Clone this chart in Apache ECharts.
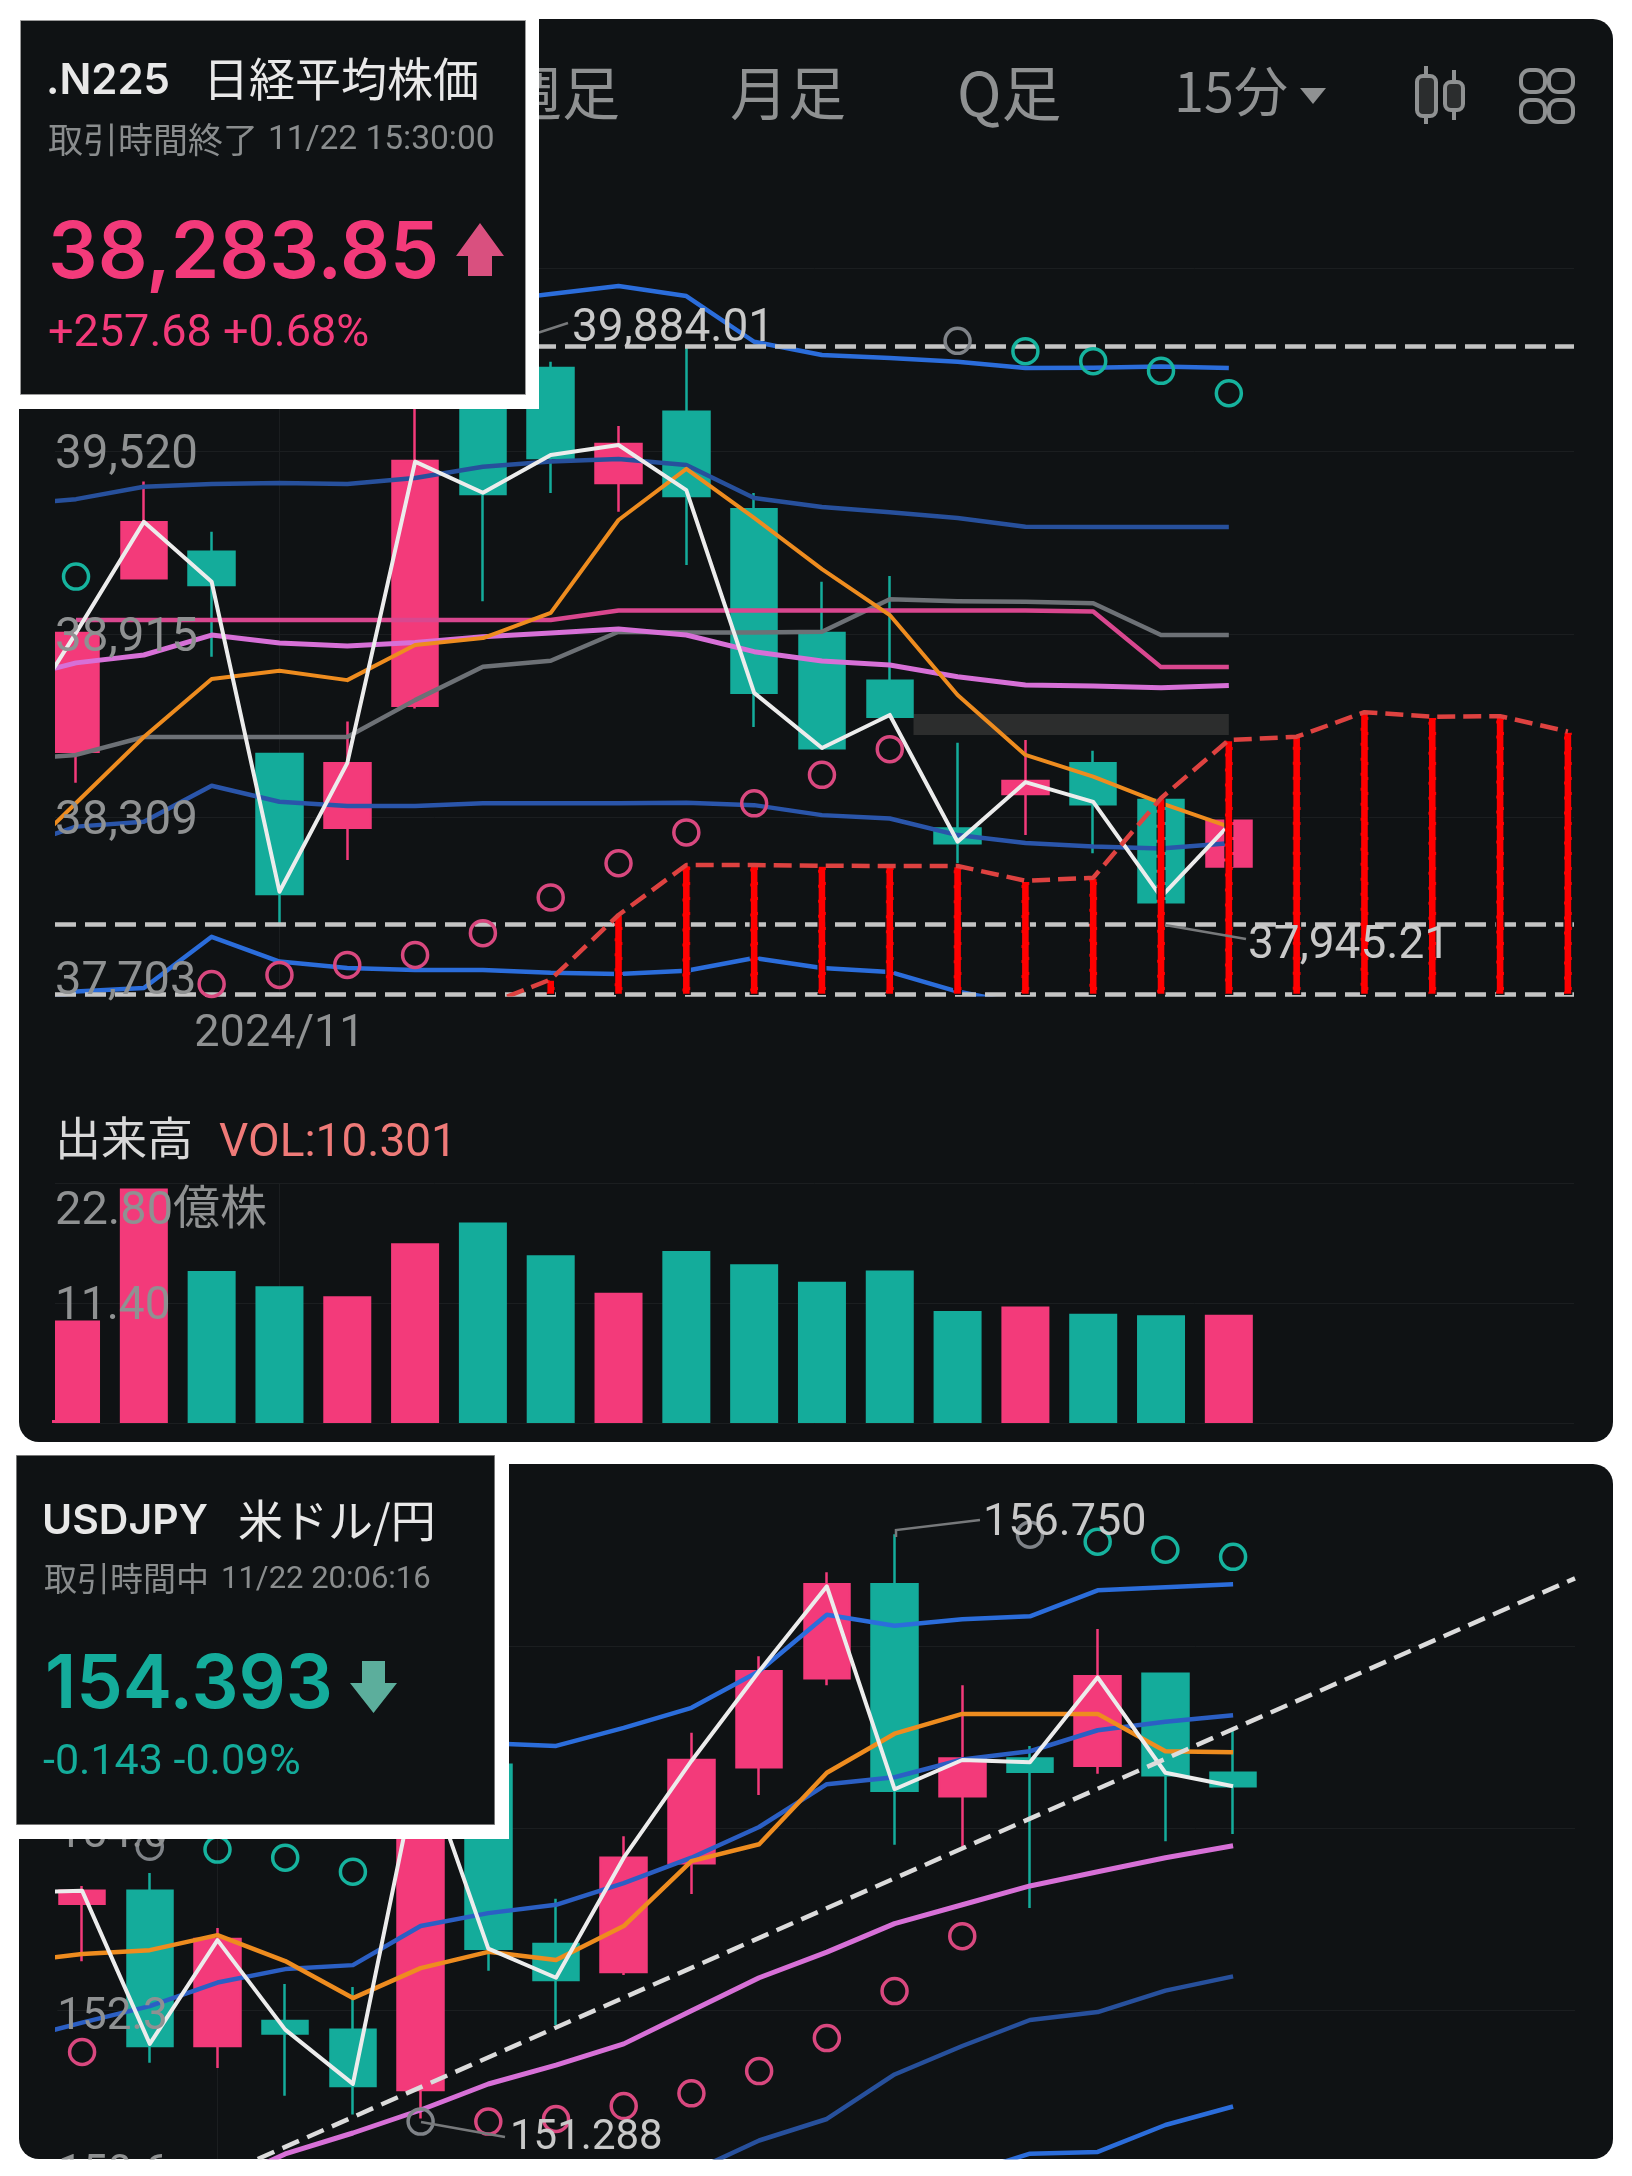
<!DOCTYPE html>
<html lang="ja">
<head>
<meta charset="utf-8">
<title>.N225 / USDJPY</title>
<script src="https://cdn.jsdelivr.net/npm/echarts@6/dist/echarts.min.js"></script>
<style>
    html, body { margin: 0; padding: 0; background: #fff; }
    #chart { width: 1632px; height: 2176px; }
</style>
</head>
<body>
<div id="chart"></div>
<script>
    // ---- .N225 price pane, [open, close, low, high] ----
    var n225Candles = [
        [38526, 38919, 38424, 38919], [39100, 39285, 39100, 39419], [39187, 39077, 38840, 39253],
        [38519, 38056, 37957, 38519], [38275, 38488, 38169, 38626], [38678, 39487, 38669, 39705],
        [39700, 39378, 39024, 39884], [39794, 39497, 39381, 39815], [39414, 39543, 39319, 39603],
        [39650, 39371, 39143, 39865], [39328, 38721, 38608, 39381], [38919, 38538, 38538, 39088],
        [38761, 38642, 38642, 39107], [38273, 38224, 38159, 38556], [38387, 38430, 38251, 38565],
        [38488, 38353, 38191, 38530], [38367, 38029, 37945, 38367], [38147, 38298, 38147, 38298]
    ];
    // lines start one bar left of the pane so they run out through the clip edge
    var n225Close = [38562, 38919, 39286, 39088, 38064, 38489, 39485, 39382, 39507, 39540, 39391, 38721, 38539, 38648, 38229, 38426, 38361, 38047, 38284];
    var n225Orange = [38139, 38357, 38575, 38767, 38794, 38763, 38879, 38902, 38985, 39292, 39461, 39299, 39130, 38978, 38714, 38516, 38444, 38357, 38279];
    var n225Violet = [38763, 38820, 38846, 38912, 38886, 38876, 38887, 38906, 38919, 38932, 38912, 38857, 38826, 38813, 38774, 38747, 38744, 38738, 38745];
    var n225Grey = [38499, 38516, 38575, 38575, 38575, 38575, 38697, 38807, 38827, 38923, 38920, 38920, 38923, 39030, 39024, 39022, 39017, 38912, 38912];
    var n225BandMid = [39342, 39361, 39402, 39411, 39414, 39411, 39431, 39468, 39485, 39494, 39474, 39365, 39335, 39318, 39299, 39270, 39269, 39269, 39269];
    var n225BandLow1 = [38202, 38279, 38295, 38414, 38361, 38347, 38347, 38356, 38356, 38356, 38358, 38350, 38317, 38306, 38251, 38225, 38213, 38207, 38224];
    var n225BandLow2 = [37673, 37734, 37746, 37915, 37833, 37812, 37805, 37805, 37796, 37792, 37803, 37845, 37812, 37799, 37734, 37690];
    // these start further along
    var n225Magenta = [38962, 38962, 38962, 38962, 38962, 38962, 38962, 38962, 38993, 38993, 38993, 38993, 38993, 38993, 38993, 38990, 38806, 38806]; // from bar 0
    var n225BandHigh = [39969, 40012, 40039, 40065, 40032, 39881, 39837, 39827, 39815, 39794, 39795, 39799, 39794]; // from bar 5
    var n225Cloud = [37686, 37774, 37987, 38152, 38152, 38150, 38149, 38149, 38100, 38110, 38373, 38565, 38576, 38657, 38642, 38644, 38593]; // from bar 6
    var n225SarPink = [null, null, 37759, 37789, 37822, 37855, 37927, 38045, 38158, 38260, 38356, 38450, 38535];
    var n225SarTeal = [39105, null, null, null, null, null, null, null, null, null, null, null, null, null, 39850, 39817, 39785, 39711];
    var n225SarGrey = [null, null, null, null, null, null, null, null, null, null, null, null, null, 39884];
    var n225Levels = [39865, 37957, 37725];
    var n225Ticks = [38309, 38915, 39520];
    var n225GridLines = [38309, 38915, 39520, 40125];
    var n225Month = '2024/11';

    // ---- volume pane ----
    var volumes = [9.74, 22.3, 14.45, 13.0, 12.06, 17.1, 19.07, 15.95, 12.38, 16.36, 15.09, 13.43, 14.5, 10.65, 11.08, 10.4, 10.25, 10.3];
    var volumeTicks = [0, 11.4, 22.8];

    // ---- USDJPY pane ----
    var usdCandles = [
        [153.295, 153.418, 152.758, 153.462], [153.418, 151.966, 151.81, 153.582], [151.966, 152.965, 151.76, 153.068],
        [152.199, 152.083, 151.502, 152.546], [152.119, 151.592, 151.326, 152.517], [151.555, 154.684, 151.288, 154.8],
        [154.595, 152.876, 152.669, 154.6], [152.92, 152.582, 152.162, 153.343], [152.657, 153.726, 152.629, 153.927],
        [153.675, 154.639, 153.387, 154.894], [154.572, 155.468, 154.313, 155.608], [155.403, 156.282, 155.337, 156.393],
        [156.282, 154.352, 153.846, 156.75], [154.301, 154.652, 153.815, 155.337], [154.652, 154.529, 153.255, 154.771],
        [154.586, 155.423, 154.511, 155.863], [155.445, 154.497, 153.88, 155.445], [154.52, 154.393, 153.947, 154.939]
    ];
    var usdClose = [153.4, 153.418, 151.986, 152.956, 152.119, 151.612, 154.684, 152.876, 152.604, 153.726, 154.63, 155.468, 156.262, 154.366, 154.639, 154.618, 155.412, 154.52, 154.393];
    var usdOrange = [152.75, 152.825, 152.862, 153.002, 152.76, 152.414, 152.694, 152.846, 152.769, 153.087, 153.694, 153.852, 154.52, 154.885, 155.07, 155.07, 155.07, 154.721, 154.712];
    var usdBandMid = [152.022, 152.185, 152.339, 152.559, 152.685, 152.722, 153.088, 153.208, 153.286, 153.488, 153.726, 154.013, 154.413, 154.478, 154.644, 154.721, 154.917, 154.996, 155.057];
    var usdBandHigh = [154.796, 154.771, 154.939, 155.127, 155.468, 155.996, 155.894, 155.954, 155.982, 156.225, 156.253, 156.281]; // from bar 6
    var usdViolet = [150.667, 150.957, 151.153, 151.368, 151.611, 151.788, 151.986, 152.295, 152.604, 152.844, 153.11, 153.286, 153.462, 153.595, 153.726, 153.837]; // from bar 2
    var usdBandLow1 = [150.789, 151.083, 151.284, 151.7, 151.966, 152.209, 152.283, 152.484, 152.617]; // from bar 9
    var usdBandLow2 = [150.761, 150.96, 150.976, 151.228, 151.401]; // from bar 13
    var usdSarPink = [151.91, null, null, null, null, null, 151.26, 151.284, 151.405, 151.524, 151.732, 152.04, 152.479, 152.993];
    var usdSarTeal = [null, null, 153.802, 153.726, 153.595, null, null, null, null, null, null, null, null, null, null, 156.679, 156.604, 156.538];
    var usdSarGrey = [null, 153.828, null, null, null, 151.26, null, null, null, null, null, null, null, null, 156.745];
    var usdTrend = [[2.595, 150.91], [22.05, 156.337]];
    var usdTicks = [152.3, 154.0];
    var usdGridLines = [152.3, 154.0, 155.7];

    var PINK = '#f33a7a', TEAL = '#14ac9b', BG = '#0f1214', GRIDC = '#1b1e20', TICKC = '#8f9192';
    var LATIN = 'Inter, "Noto Sans CJK JP", sans-serif';
    var CJK = '"Noto Sans CJK JP", Inter, sans-serif';
    var AXISFONT = 'Roboto, "Noto Sans CJK JP", sans-serif';

    function indexed(values, start) {
        return values.map(function (v, i) { return [i + start, v]; });
    }

    function line(name, values, start, color, width, axis, z) {
        return {
            name: name, type: 'line', data: indexed(values, start),
            xAxisIndex: axis.x, yAxisIndex: axis.y,
            showSymbol: false, symbol: 'none', silent: true, z: z || 3,
            lineStyle: { color: color, width: width, join: 'round' }
        };
    }

    function sar(name, values, color, axis) {
        return {
            name: name, type: 'scatter', xAxisIndex: axis.x, yAxisIndex: axis.y, silent: true, z: 6,
            data: indexed(values, 0).filter(function (p) { return p[1] !== null; }),
            symbol: 'circle', symbolSize: 25,
            itemStyle: { color: 'rgba(0,0,0,0)', borderColor: color, borderWidth: 3.5, opacity: 1 }
        };
    }

    function candles(name, data, axis) {
        return {
            name: name, type: 'candlestick', xAxisIndex: axis.x, yAxisIndex: axis.y, silent: true, z: 2,
            data: data.map(function (c, i) { return [i, c[0], c[1], c[2], c[3]]; }),
            barWidth: 46,
            itemStyle: { color: PINK, color0: TEAL, borderColor: PINK, borderColor0: TEAL, borderWidth: 2.5 }
        };
    }

    function dashedLevels(values) {
        return {
            silent: true, symbol: 'none', animation: false, label: { show: false },
            lineStyle: { color: '#c4c4c4', width: 4.5, type: [21, 9] },
            data: values.map(function (v) { return { yAxis: v }; })
        };
    }

    function xAxis(gridIndex, min, max, lineAt, label) {
        return {
            type: 'value', gridIndex: gridIndex, min: min, max: max,
            axisLine: { show: false },
            axisTick: { show: false, customValues: [lineAt] },
            splitLine: { show: true, lineStyle: { color: GRIDC, width: 1 } },
            axisLabel: label ? {
                show: true, customValues: [lineAt], margin: 18, color: TICKC, fontSize: 45, fontFamily: AXISFONT,
                formatter: function () { return label; }
            } : { show: false }
        };
    }

    // one y axis only for the grid lines (under the marks) and one for the labels (over them)
    function yLines(gridIndex, min, max, ticks) {
        return {
            type: 'value', gridIndex: gridIndex, min: min, max: max, position: 'left',
            axisLine: { show: false },
            axisTick: { show: false, customValues: ticks },
            axisLabel: { show: false },
            splitLine: { show: true, lineStyle: { color: GRIDC, width: 1 } }
        };
    }

    // top aligned with a short line height, so the text sits just under its grid line
    function yLabels(gridIndex, min, max, ticks, size, lift, fmt, rich) {
        return {
            type: 'value', gridIndex: gridIndex, min: min, max: max, position: 'left', z: 10,
            axisLine: { show: false }, axisTick: { show: false, customValues: ticks },
            splitLine: { show: false },
            axisLabel: {
                show: true, inside: true, margin: 0, customValues: ticks, color: TICKC,
                fontSize: size, fontFamily: AXISFONT, verticalAlign: 'top', lineHeight: lift,
                formatter: fmt, rich: rich
            }
        };
    }

    function text(x, y, str, size, color, opt) {
        opt = opt || {};
        return {
            type: 'text', z: opt.z === undefined ? 100 : opt.z, silent: true,
            style: {
                x: x, y: y, text: str, fill: color, fontSize: size,
                fontFamily: opt.family || LATIN, fontWeight: opt.weight || 400,
                align: opt.align || 'left', verticalAlign: 'middle', opacity: opt.opacity === undefined ? 1 : opt.opacity
            }
        };
    }

    function rect(x, y, w, h, fill, z, r, stroke) {
        return {
            type: 'rect', z: z, silent: true,
            shape: { x: x, y: y, width: w, height: h, r: r || 0 },
            style: { fill: fill, stroke: stroke || null, lineWidth: stroke ? 1 : 0 }
        };
    }

    function connector(pts) {
        return {
            type: 'polyline', z: 8, silent: true, shape: { points: pts },
            style: { stroke: '#77797b', lineWidth: 2.5, fill: null }
        };
    }

    function arrow(pts, color) {
        return { type: 'polygon', z: 101, silent: true, shape: { points: pts }, style: { fill: color } };
    }

    function iconStroke(x, y, w, h, r, fill) {
        return {
            type: 'rect', z: 3, silent: true, shape: { x: x, y: y, width: w, height: h, r: r },
            style: { fill: fill || 'rgba(0,0,0,0)', stroke: TICKC, lineWidth: 4 }
        };
    }

    var graphics = [
        // panels
        rect(19, 19, 1594, 1423, BG, -10, 20),
        rect(19, 1464, 1594, 695, BG, -10, 20),
        // candles and bars of the first bar stop at the pane edge
        rect(19, 410, 36, 1010, BG, 9),

        // toolbar
        text(620, 93, '週足', 58, TICKC, { family: CJK, align: 'right', z: 3 }),
        text(730, 93, '月足', 58, TICKC, { family: CJK, z: 3 }),
        text(957, 93, 'Q足', 60, TICKC, { family: CJK, z: 3 }),
        text(1174, 91, '15分', 54, TICKC, { family: CJK, z: 3 }),
        { type: 'polygon', z: 3, silent: true, shape: { points: [[1300, 88], [1326, 88], [1313, 104]] }, style: { fill: TICKC } },
        { type: 'line', z: 3, silent: true, shape: { x1: 1426, y1: 66, x2: 1426, y2: 124 }, style: { stroke: TICKC, lineWidth: 4 } },
        { type: 'line', z: 3, silent: true, shape: { x1: 1454, y1: 70, x2: 1454, y2: 120 }, style: { stroke: TICKC, lineWidth: 4 } },
        iconStroke(1417, 76, 19, 40, 6, '#2b2d2e'),
        iconStroke(1445, 82, 18, 28, 6, '#2b2d2e'),
        iconStroke(1521, 70, 24, 22, 9),
        iconStroke(1549, 70, 24, 22, 9),
        iconStroke(1521, 100, 24, 22, 9),
        iconStroke(1549, 100, 24, 22, 9),

        // price annotations
        text(55, 982, '37,703', 47, TICKC, { family: AXISFONT, z: 12 }),
        connector([[470, 355], [568, 323]]),
        text(572, 329, '39,884.01', 46, '#c9c9c9', { family: AXISFONT, z: 12 }),
        connector([[1165, 925], [1246, 939]]),
        text(1248, 946, '37,945.21', 46, '#c9c9c9', { family: AXISFONT, z: 12 }),

        // volume title
        text(55, 1138, '出来高', 46, '#d8d8d8', { family: CJK, z: 12 }),
        text(219, 1144, 'VOL:10.301', 46, '#ef7a78', { family: AXISFONT, z: 12 }),

        // USDJPY annotations
        connector([[896, 1537], [896, 1530], [980, 1520]]),
        text(983, 1524, '156.750', 45, '#c9c9c9', { family: AXISFONT, z: 12 }),
        connector([[421, 2122], [505, 2137]]),
        text(510, 2138, '151.288', 42, '#c9c9c9', { family: AXISFONT, z: 12 }),
        text(58, 2175, '150.6', 44, TICKC, { family: AXISFONT, z: 12 }),
        rect(0, 2159.5, 1632, 16.5, '#ffffff', 13),
        rect(0, 2176, 1632, 30, '#ffffff', 13),

        // .N225 quote box
        rect(0, 0, 539, 409, '#ffffff', 99),
        rect(20.5, 20.5, 505, 374, BG, 100, 0, '#9a9a9a'),
        text(46, 81, '.N225', 42, '#e8e8e8', { weight: 600, z: 101 }),
        text(203, 79, '日経平均株価', 46, '#e8e8e8', { family: CJK, z: 101 }),
        text(48, 140, '取引時間終了', 35, '#8a8d8e', { family: CJK, z: 101 }),
        text(268, 141, '11/22 15:30:00', 33.5, '#8a8d8e', { family: AXISFONT, z: 101 }),
        text(48, 255, '38,283.85', 78, PINK, { weight: 600, z: 101 }),
        arrow([[480, 223], [504, 256], [492, 256], [492, 276], [468, 276], [468, 256], [456, 256]], '#d9507f'),
        text(48, 335, '+257.68 +0.68%', 45, PINK, { family: AXISFONT, z: 101 }),

        // USDJPY quote box
        rect(0, 1442, 509, 397, '#ffffff', 99),
        rect(16.5, 1455.5, 478, 369, BG, 100, 0, '#777777'),
        text(42, 1522, 'USDJPY', 41, '#e8e8e8', { weight: 600, z: 101 }),
        text(238, 1521, '米ドル/円', 45, '#e8e8e8', { family: CJK, z: 101 }),
        text(44, 1578, '取引時間中', 33, '#8a8d8e', { family: CJK, z: 101 }),
        text(221, 1580, '11/22 20:06:16', 31, '#8a8d8e', { family: AXISFONT, z: 101 }),
        text(45, 1686, '154.393', 74, TEAL, { weight: 600, z: 101 }),
        arrow([[362, 1661], [385, 1661], [385, 1683], [397, 1683], [373.5, 1713], [350, 1683], [362, 1683]], '#5cae9c'),
        text(43, 1763, '-0.143 -0.09%', 43, TEAL, { family: AXISFONT, z: 101 })
    ];

    var AX_PRICE = { x: 0, y: 0 }, AX_VOL = { x: 1, y: 2 }, AX_USD = { x: 2, y: 4 };

    var series = [
        // grey band behind the candles
        {
            name: 'band', type: 'line', xAxisIndex: 0, yAxisIndex: 0, data: [], z: 1, silent: true,
            markArea: {
                silent: true, animation: false,
                itemStyle: { color: '#2c2d2d' },
                data: [[{ coord: [12.35, 38651] }, { coord: [17, 38582] }]]
            }
        },
        candles('N225', n225Candles, AX_PRICE),
        line('BB mid', n225BandMid, -1, '#27509c', 4.5, AX_PRICE),
        line('BB low1', n225BandLow1, -1, '#2a55aa', 4.5, AX_PRICE),
        line('BB low2', n225BandLow2, -1, '#2b6ddb', 4.5, AX_PRICE),
        line('BB high', n225BandHigh, 5, '#2b6ddb', 4.5, AX_PRICE),
        line('Grey', n225Grey, -1, '#6d7176', 4.5, AX_PRICE),
        line('Magenta', n225Magenta, 0, '#d9478f', 4.5, AX_PRICE),
        line('Violet', n225Violet, -1, '#d770d7', 5, AX_PRICE),
        line('Orange', n225Orange, -1, '#ee8c1f', 4, AX_PRICE),
        line('Close', n225Close, -1, '#ececec', 4, AX_PRICE, 4),
        {
            name: 'Cloud bars', type: 'bar', xAxisIndex: 0, yAxisIndex: 0, silent: true, z: 5,
            data: indexed(n225Cloud, 6).slice(1), barWidth: 9,
            itemStyle: { color: '#ff0000', borderColor: BG, borderWidth: 1.2, borderType: [12, 3] }
        },
        {
            name: 'Cloud', type: 'line', xAxisIndex: 0, yAxisIndex: 0, silent: true, z: 5,
            data: indexed(n225Cloud, 6), symbol: 'none', showSymbol: false,
            lineStyle: { color: '#de4240', width: 4.5, type: [18, 8] },
            markLine: dashedLevels(n225Levels)
        },
        sar('SAR up', n225SarPink, '#d9487f', AX_PRICE),
        sar('SAR down', n225SarTeal, '#16b39e', AX_PRICE),
        sar('SAR flip', n225SarGrey, '#7f8388', AX_PRICE),

        {
            name: '出来高', type: 'bar', xAxisIndex: 1, yAxisIndex: 2, silent: true, barWidth: 48,
            data: volumes.map(function (v, i) {
                var c = n225Candles[i];
                return { value: [i, v], itemStyle: { color: c[1] > c[0] ? PINK : TEAL } };
            })
        },

        candles('USDJPY', usdCandles, AX_USD),
        line('USD BB high', usdBandHigh, 6, '#2b6ddb', 4.5, AX_USD),
        line('USD BB mid', usdBandMid, -1, '#2b5fc4', 4.5, AX_USD),
        line('USD BB low1', usdBandLow1, 9, '#27509c', 4.5, AX_USD),
        line('USD BB low2', usdBandLow2, 13, '#2b6ddb', 4.5, AX_USD),
        line('USD Violet', usdViolet, 2, '#d770d7', 5, AX_USD),
        line('USD Orange', usdOrange, -1, '#ee8c1f', 4.5, AX_USD),
        line('USD Close', usdClose, -1, '#ececec', 4, AX_USD, 4),
        {
            name: 'Trend', type: 'line', xAxisIndex: 2, yAxisIndex: 4, data: [], silent: true, z: 5,
            markLine: {
                silent: true, symbol: 'none', animation: false, label: { show: false },
                lineStyle: { color: '#dcdcdc', width: 4.5, type: [18, 9] },
                data: [[{ coord: usdTrend[0] }, { coord: usdTrend[1] }]]
            }
        },
        sar('USD SAR up', usdSarPink, '#d9487f', AX_USD),
        sar('USD SAR down', usdSarTeal, '#16b39e', AX_USD),
        sar('USD SAR flip', usdSarGrey, '#7f8388', AX_USD)
    ];

    var volRich = {
        top: { fontSize: 47, fontFamily: AXISFONT, color: TICKC, lineHeight: 58 },
        mid: { fontSize: 46, fontFamily: AXISFONT, color: TICKC, lineHeight: 8 }
    };

    var myChart = echarts.init(document.getElementById('chart'), null, { renderer: 'canvas' });
    myChart.setOption({
        animation: false,
        backgroundColor: '#ffffff',
        textStyle: { fontFamily: AXISFONT },
        graphic: { elements: graphics },
        grid: [
            { left: 55, width: 1519, top: 267, height: 727.3, show: false },
            { left: 55, width: 1519, top: 1183.3, height: 239.7, show: false },
            { left: 57.3, width: 1517.7, top: 1464.6, height: 694.4, show: false }
        ],
        xAxis: [
            xAxis(0, -0.31, 22.09, 3, n225Month),
            xAxis(1, -0.31, 22.09, 3),
            xAxis(2, -0.366, 22.05, 2)
        ],
        yAxis: [
            yLines(0, 37725, 40128, n225GridLines),
            yLabels(0, 37725, 40128, n225Ticks, 47.5, 10, function (v) { return echarts.format.addCommas(v); }),
            yLines(1, 0, 22.8, volumeTicks),
            yLabels(1, 0, 22.8, volumeTicks.slice(1), 46, 8, function (v) {
                return v === 22.8 ? '{top|22.80億株}' : '{mid|11.40}';
            }, volRich),
            yLines(2, 150.91, 157.4, usdGridLines),
            yLabels(2, 150.91, 157.4, usdTicks, 44, 16, function (v) { return v.toFixed(1); })
        ],
        series: series
    });
</script>
</body>
</html>
